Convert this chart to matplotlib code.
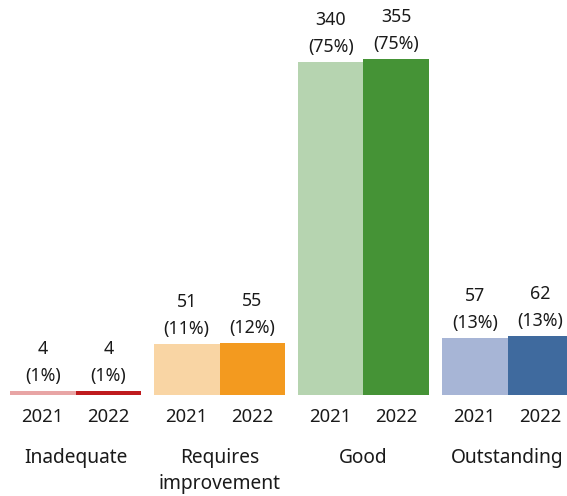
import matplotlib
matplotlib.use("Agg")
import matplotlib.pyplot as plt
import numpy as np

categories = ["Inadequate", "Requires\nimprovement", "Good", "Outstanding"]
years = ["2021", "2022"]
counts_2021 = [4, 51, 340, 57]
counts_2022 = [4, 55, 355, 62]
pct_2021 = ["1%", "11%", "75%", "13%"]
pct_2022 = ["1%", "12%", "75%", "13%"]
# bar heights as share of providers (%)
share_2021 = [0.9, 11.3, 74.0, 12.6]
share_2022 = [0.9, 11.6, 74.6, 13.1]

colors_2021 = ["#e8a5a5", "#f9d5a4", "#b6d4b0", "#a7b5d6"]
colors_2022 = ["#bf1a1d", "#f39a1f", "#459336", "#3f6a9e"]

plt.rcParams["font.family"] = ["Noto Sans", "DejaVu Sans"]

fig = plt.figure(figsize=(5.67, 4.96), dpi=100)
ax = fig.add_axes([0, 101 / 496, 1, 395 / 496])

x = np.arange(len(categories))
w = 65.5 / 144

b1 = ax.bar(x - w / 2, share_2021, w, color=colors_2021)
b2 = ax.bar(x + w / 2, share_2022, w, color=colors_2022)

for bars, cnts, pcts in [(b1, counts_2021, pct_2021), (b2, counts_2022, pct_2022)]:
    for bar, c, p in zip(bars, cnts, pcts):
        ax.annotate("%d\n(%s)" % (c, p),
                    (bar.get_x() + bar.get_width() / 2, bar.get_height()),
                    xytext=(0, 6), textcoords="offset pixels",
                    ha="center", va="bottom", fontsize=12.8, linespacing=1.65,
                    color="#1a1a1a")
        lab = years[0] if bars is b1 else years[1]
        ax.annotate(lab, (bar.get_x() + bar.get_width() / 2, 0),
                    xycoords=("data", "axes fraction"),
                    xytext=(0, -22), textcoords="offset pixels",
                    ha="center", va="center", fontsize=13.3, color="#1a1a1a")

for i, cat in enumerate(categories):
    ax.annotate(cat, (x[i], 0), xycoords=("data", "axes fraction"),
                xytext=(0, -53), textcoords="offset pixels",
                ha="center", va="top", fontsize=13.8, linespacing=1.4,
                color="#1a1a1a")

ax.set_xlim(-75.5 / 144, (567 - 75.5) / 144)
ax.set_ylim(0, 395 / 4.504)
ax.axis("off")

fig.savefig("out.png", dpi=100)
